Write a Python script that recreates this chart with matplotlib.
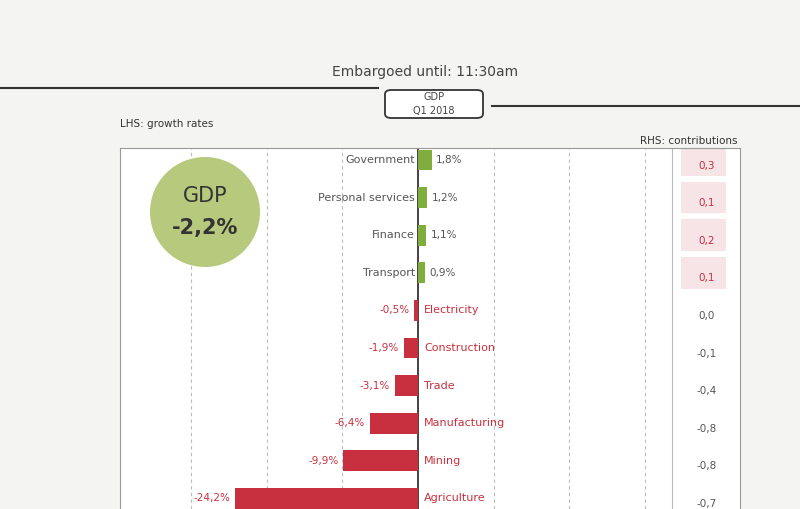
import matplotlib.pyplot as plt
from matplotlib.patches import Ellipse, FancyBboxPatch, Rectangle

sectors = ["Government", "Personal services", "Finance", "Transport", "Electricity",
           "Construction", "Trade", "Manufacturing", "Mining", "Agriculture"]
growth = [1.8, 1.2, 1.1, 0.9, -0.5, -1.9, -3.1, -6.4, -9.9, -24.2]
contrib = [0.3, 0.1, 0.2, 0.1, 0.0, -0.1, -0.4, -0.8, -0.8, -0.7]

W, H = 800, 509
fig = plt.figure(figsize=(8, 5.09), dpi=100)
fig.patch.set_facecolor("#f4f4f2")

def fx(px):
    return px / W

def fy(py):
    return 1 - py / H

# header
fig.text(fx(425), fy(72), "Embargoed until: 11:30am", ha="center", va="center",
         fontsize=10, color="#444444")
fig.add_artist(plt.Line2D([fx(0), fx(378)], [fy(88), fy(88)], color="#333333", lw=1.5))
fig.add_artist(plt.Line2D([fx(492), fx(800)], [fy(106), fy(106)], color="#333333", lw=1.5))
fig.add_artist(FancyBboxPatch((fx(385), fy(118)), fx(98), fy(90) - fy(118),
                              boxstyle="round,pad=0,rounding_size=0.008",
                              transform=fig.transFigure, fc="white", ec="#333333", lw=1.3))
fig.text(fx(434), fy(97), "GDP", ha="center", va="center", fontsize=7, color="#444444")
fig.text(fx(434), fy(111), "Q1 2018", ha="center", va="center", fontsize=7, color="#444444")
fig.text(fx(120), fy(124), "LHS: growth rates", ha="left", va="center", fontsize=7.5, color="#333333")
fig.text(fx(737), fy(141), "RHS: contributions", ha="right", va="center", fontsize=7.5, color="#333333")

# main axes
ax = fig.add_axes([fx(120), 0, fx(740) - fx(120), fy(148)])
ax.set_facecolor("white")
scale = 7.56
ax.set_xlim(-298 / scale, 322 / scale)
ax.set_ylim((509 - 160) / 37.6, -12 / 37.6)
for s in ax.spines.values():
    s.set_color("#999999")
ax.spines["bottom"].set_visible(False)
ax.set_xticks([])
ax.set_yticks([])
for gx in [-30, -20, -10, 10, 20, 30]:
    ax.axvline(gx, color="#bbbbbb", lw=0.8, ls=(0, (3, 3)))
ax.axvline(0, color="#222222", lw=1.2)

green, red, grey = "#7fae3f", "#c8303f", "#555555"
ypos = list(range(len(sectors)))
colors = [green if g > 0 else red for g in growth]
ax.barh(ypos, growth, height=0.55, color=colors, zorder=3)

for y, name, g in zip(ypos, sectors, growth):
    val = f"{g:.1f}%".replace(".", ",")
    if g > 0:
        ax.text(-0.4, y, name, ha="right", va="center", fontsize=8, color=grey)
        ax.text(g + 0.6, y, val, ha="left", va="center", fontsize=7.5, color=grey)
    else:
        ax.text(0.8, y, name, ha="left", va="center", fontsize=8, color=red)
        ax.text(g - 0.6, y, val, ha="right", va="center", fontsize=7.5, color=red)

# contributions column
col_x = (672 - 418) / scale
ax.axvline(col_x, color="#bbbbbb", lw=0.8)
for y, c in zip(ypos, contrib):
    txt = f"{c:.1f}".replace(".", ",")
    if c > 0:
        ax.add_patch(Rectangle((col_x + 1.2, y - 0.42), 6, 0.84, fc="#f6e4e6", ec="none", zorder=2))
        ax.text(col_x + 4.6, y + 0.15, txt, ha="center", va="center", fontsize=7.5, color=red, zorder=4)
    else:
        ax.text(col_x + 4.6, y + 0.15, txt, ha="center", va="center", fontsize=7.5, color=grey, zorder=4)

# GDP bubble
fig.add_artist(Ellipse((fx(205), fy(212)), 110 / W, 110 / H, transform=fig.transFigure,
                       fc="#b6c97d", ec="none", zorder=5))
fig.text(fx(205), fy(196), "GDP", ha="center", va="center", fontsize=15, color="#333333", zorder=6)
fig.text(fx(205), fy(228), "-2,2%", ha="center", va="center", fontsize=15,
         fontweight="bold", color="#333333", zorder=6)

fig.savefig("out.png", dpi=100)
